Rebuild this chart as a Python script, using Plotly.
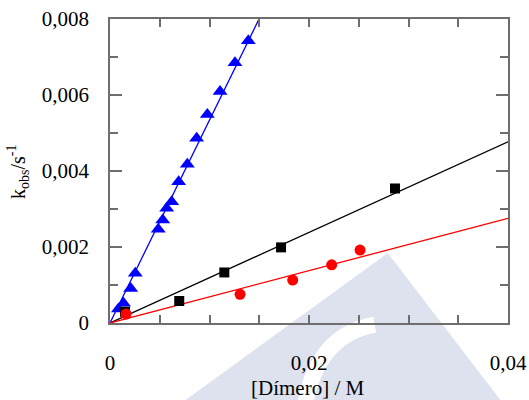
import plotly.graph_objects as go

# Blue triangles
x_blue = [0.00085, 0.00136, 0.00208, 0.00254, 0.00485, 0.00530, 0.00570, 0.00620,
          0.00690, 0.00777, 0.00871, 0.00978, 0.01106, 0.01256, 0.01390]
y_blue = [0.00037, 0.00052, 0.00091, 0.00131, 0.00247, 0.00271, 0.00302, 0.00319,
          0.00372, 0.00418, 0.00486, 0.00549, 0.00609, 0.00685, 0.00743]
# Black squares
x_black = [0.00151, 0.00696, 0.01149, 0.01719, 0.02864]
y_black = [0.000297, 0.000579, 0.00133, 0.00199, 0.00354]
# Red circles
x_red = [0.00161, 0.01307, 0.01836, 0.02228, 0.02513]
y_red = [0.000237, 0.000755, 0.00113, 0.00153, 0.00192]

# Fitted slopes (lines through origin)
slope_blue = 0.534
slope_black = 0.1192
slope_red = 0.0689
line_x = [0.0, 0.04]

x_tickvals = [0, 0.02, 0.04]
x_ticktext = ["0", "0,02", "0,04"]
y_tickvals = [0, 0.002, 0.004, 0.006, 0.008]
y_ticktext = ["0", "0,002", "0,004", "0,006", "0,008"]

FONT = "Liberation Serif, Times New Roman, serif"
AX = "#6e6e6e"

fig = go.Figure()

for slope, color in [(slope_blue, "#0000ff"), (slope_black, "#000000"), (slope_red, "#ff0000")]:
    fig.add_trace(go.Scatter(x=line_x, y=[slope * v for v in line_x], mode="lines",
                             line=dict(color=color, width=1.3), hoverinfo="skip"))
for xs, ys, color, symbol, size in [
    (x_blue, y_blue, "#0000ff", "triangle-up", 13),
    (x_black, y_black, "#000000", "square", 10),
    (x_red, y_red, "#ff0000", "circle", 11),
]:
    fig.add_trace(go.Scatter(x=xs, y=ys, mode="markers",
                             marker=dict(color=color, symbol=symbol, size=size,
                                         line=dict(width=0)), cliponaxis=False))

# watermark (background)
fig.add_shape(type="path", xref="paper", yref="paper", layer="below",
              path="M 0.183 -0.26 L 0.698 0.230 L 0.985 -0.26 Z",
              fillcolor="#dde2ee", line=dict(width=0))
fig.add_shape(type="path", xref="paper", yref="paper", layer="below",
              path="M 0.665 -0.005 Q 0.52 -0.04 0.49 -0.27",
              fillcolor="rgba(0,0,0,0)", line=dict(width=16, color="white"))

fig.update_layout(
    width=529, height=400,
    margin=dict(l=110, r=21, t=19, b=77, autoexpand=False),
    paper_bgcolor="white", plot_bgcolor="rgba(0,0,0,0)",
    showlegend=False,
    font=dict(family=FONT, size=21, color="black"),
    xaxis=dict(range=[0, 0.04], tickvals=x_tickvals, ticktext=x_ticktext,
               showgrid=False, zeroline=False, showline=True, linecolor=AX,
               linewidth=1.5, mirror="ticks", ticks="inside", ticklen=8,
               tickcolor=AX, tickwidth=1.5, ticklabelstandoff=20, automargin=False,
               minor=dict(dtick=0.005, ticks="inside", ticklen=8, tickcolor=AX,
                          tickwidth=1.5, showgrid=False),
               tickfont=dict(family=FONT, size=21)),
    yaxis=dict(range=[0, 0.008], tickvals=y_tickvals, ticktext=y_ticktext,
               showgrid=False, zeroline=False, showline=True, linecolor=AX,
               linewidth=1.5, mirror="ticks", ticks="inside", ticklen=12,
               tickcolor=AX, tickwidth=1.5, ticklabelstandoff=15, automargin=False,
               minor=dict(dtick=0.001, ticks="inside", ticklen=8, tickcolor=AX,
                          tickwidth=1.5, showgrid=False),
               tickfont=dict(family=FONT, size=21)),
    annotations=[
        dict(text="k<sub>obs</sub>/s<sup>-1</sup>", xref="paper", yref="paper",
             x=-0.231, y=0.497, textangle=-90, showarrow=False,
             font=dict(family=FONT, size=20), xanchor="center", yanchor="middle"),
        dict(text="[Dímero] / M", xref="paper", yref="paper",
             x=0.497, y=-0.214, showarrow=False,
             font=dict(family=FONT, size=21), xanchor="center", yanchor="middle"),
    ],
)

fig.write_html("out.html", config={"displayModeBar": False},
               post_script="document.body.style.margin='0';document.body.style.overflow='hidden';")
